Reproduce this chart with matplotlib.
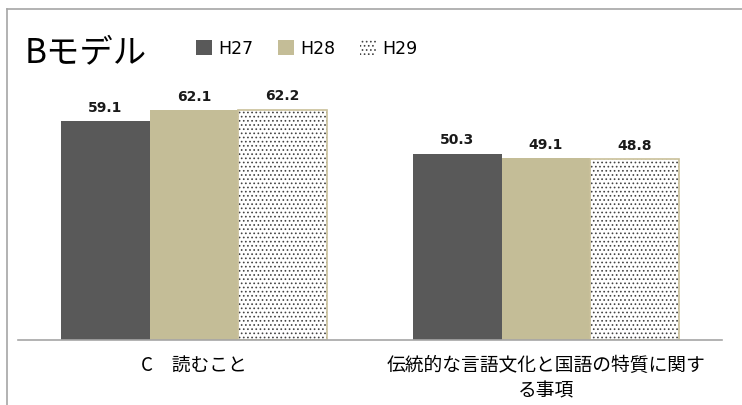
import numpy as np
import matplotlib.pyplot as plt
from matplotlib.patches import Patch
from matplotlib.lines import Line2D

plt.rcParams['font.family'] = ['Noto Sans CJK JP', 'DejaVu Sans']
plt.rcParams['hatch.linewidth'] = 0.7

categories = ['C\u3000読むこと', '伝統的な言語文化と国語の特質に関す\nる事項']
years = ['H27', 'H28', 'H29']
h27 = [59.1, 50.3]
h28 = [62.1, 49.1]
h29 = [62.2, 48.8]

c27 = '#595959'
c28 = '#c4bd97'
edge29 = '#c9c09a'

fig = plt.figure(figsize=(7.42, 4.06), dpi=100)
ax = fig.add_axes([18/742, 1-341/406, 704/742, 259/406])

x = np.arange(len(categories))
w = 0.252
b1 = ax.bar(x - w, h27, w, color=c27, linewidth=0)
b2 = ax.bar(x, h28, w, color=c28, linewidth=0)
b3 = ax.bar(x + w, h29, w, color='white', edgecolor='#444444', hatch='....', linewidth=0)
ax.bar(x + w, h29, w, fill=False, edgecolor=edge29, linewidth=1.2)

for bars, vals in [(b1, h27), (b2, h28), (b3, h29)]:
    for b, v in zip(bars, vals):
        ax.text(b.get_x() + b.get_width()/2, v + 2.0, f'{v:.1f}', ha='center', va='bottom',
                fontsize=10, fontweight='bold', color='#1a1a1a', family='DejaVu Sans')

ax.set_xlim(-0.5, 1.5)
ax.set_ylim(0, 70)
ax.set_yticks([])
ax.set_xticks(x)
ax.set_xticklabels(categories, fontsize=13.5, linespacing=1.3)
ax.tick_params(axis='x', length=0, pad=10)
for s in ['top', 'left', 'right']:
    ax.spines[s].set_visible(False)
ax.spines['bottom'].set_color('#a6a6a6')
ax.spines['bottom'].set_linewidth(1.2)

# outer chart frame (cropped)
fig.add_artist(Line2D([7/742, 7/742], [0, 1-10/406], color='#a6a6a6', lw=1.2))
fig.add_artist(Line2D([7/742, 1], [1-10/406, 1-10/406], color='#a6a6a6', lw=1.2))

fig.text(25/742, 1-53/406, 'Bモデル', fontsize=24, va='center', ha='left')

handles = [Patch(facecolor=c27, linewidth=0),
           Patch(facecolor=c28, linewidth=0),
           Patch(facecolor='white', edgecolor='#444444', hatch='....', linewidth=0)]
leg = fig.legend(handles, years, loc='center left', bbox_to_anchor=(180/742, 1-49/406),
                 ncol=3, frameon=False, handlelength=0.95, handleheight=0.95,
                 handletextpad=0.35, columnspacing=1.4,
                 prop={'family': 'DejaVu Sans', 'size': 12.5})

fig.savefig('out.png', dpi=100)
